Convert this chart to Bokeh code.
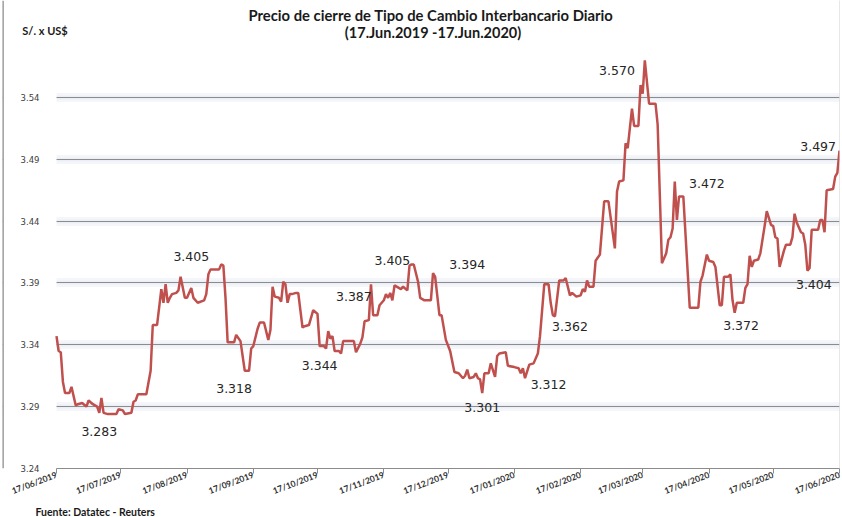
import pandas as pd
from bokeh.plotting import figure
from bokeh.models import (FixedTicker, PrintfTickFormatter, DatetimeTickFormatter,
                          Label, Range1d, Grid, Span, BoxAnnotation, Title)
from bokeh.embed import file_html
from bokeh.resources import INLINE

# ---------------- data ----------------
dates = [
    "2019-06-17", "2019-06-18", "2019-06-19", "2019-06-20", "2019-06-21", "2019-06-23", "2019-06-24",
    "2019-06-26", "2019-06-27", "2019-06-29", "2019-07-01", "2019-07-02", "2019-07-04", "2019-07-06",
    "2019-07-07", "2019-07-08", "2019-07-09", "2019-07-11", "2019-07-15", "2019-07-16", "2019-07-18",
    "2019-07-19", "2019-07-22", "2019-07-23", "2019-07-24", "2019-07-25", "2019-07-29", "2019-07-31",
    "2019-08-01", "2019-08-03", "2019-08-05", "2019-08-06", "2019-08-07", "2019-08-08", "2019-08-09",
    "2019-08-10", "2019-08-12", "2019-08-13", "2019-08-14", "2019-08-16", "2019-08-17", "2019-08-19",
    "2019-08-20", "2019-08-22", "2019-08-25", "2019-08-26", "2019-08-27", "2019-08-28", "2019-09-01",
    "2019-09-02", "2019-09-03", "2019-09-04", "2019-09-05", "2019-09-08", "2019-09-09", "2019-09-11",
    "2019-09-13", "2019-09-15", "2019-09-16", "2019-09-17", "2019-09-19", "2019-09-20", "2019-09-22",
    "2019-09-24", "2019-09-25", "2019-09-26", "2019-09-27", "2019-09-29", "2019-09-30", "2019-10-01",
    "2019-10-02", "2019-10-03", "2019-10-04", "2019-10-05", "2019-10-07", "2019-10-08", "2019-10-10",
    "2019-10-11", "2019-10-13", "2019-10-15", "2019-10-17", "2019-10-18", "2019-10-20", "2019-10-21",
    "2019-10-22", "2019-10-23", "2019-10-24", "2019-10-25", "2019-10-27", "2019-10-28", "2019-10-29",
    "2019-10-31", "2019-11-03", "2019-11-04", "2019-11-06", "2019-11-07", "2019-11-08", "2019-11-10",
    "2019-11-11", "2019-11-12", "2019-11-14", "2019-11-15", "2019-11-17", "2019-11-18", "2019-11-19",
    "2019-11-20", "2019-11-21", "2019-11-22", "2019-11-23", "2019-11-25", "2019-11-26", "2019-11-28",
    "2019-11-29", "2019-11-30", "2019-12-01", "2019-12-03", "2019-12-04", "2019-12-06", "2019-12-09",
    "2019-12-10", "2019-12-11", "2019-12-13", "2019-12-14", "2019-12-16", "2019-12-18", "2019-12-20",
    "2019-12-22", "2019-12-24", "2019-12-25", "2019-12-26", "2019-12-27", "2019-12-29", "2019-12-30",
    "2019-12-31", "2020-01-01", "2020-01-02", "2020-01-03", "2020-01-05", "2020-01-06", "2020-01-08",
    "2020-01-09", "2020-01-10", "2020-01-13", "2020-01-14", "2020-01-17", "2020-01-19", "2020-01-20",
    "2020-01-21", "2020-01-22", "2020-01-24", "2020-01-26", "2020-01-28", "2020-01-29", "2020-01-31",
    "2020-02-02", "2020-02-03", "2020-02-04", "2020-02-05", "2020-02-07", "2020-02-09", "2020-02-10",
    "2020-02-12", "2020-02-13", "2020-02-15", "2020-02-17", "2020-02-18", "2020-02-19", "2020-02-20",
    "2020-02-21", "2020-02-23", "2020-02-24", "2020-02-26", "2020-02-28", "2020-03-01", "2020-03-04",
    "2020-03-05", "2020-03-06", "2020-03-08", "2020-03-09", "2020-03-10", "2020-03-12", "2020-03-13",
    "2020-03-15", "2020-03-16", "2020-03-17", "2020-03-18", "2020-03-20", "2020-03-23", "2020-03-24",
    "2020-03-26", "2020-03-28", "2020-03-29", "2020-03-30", "2020-03-31", "2020-04-01", "2020-04-02",
    "2020-04-03", "2020-04-05", "2020-04-08", "2020-04-12", "2020-04-13", "2020-04-14", "2020-04-16",
    "2020-04-17", "2020-04-19", "2020-04-20", "2020-04-22", "2020-04-23", "2020-04-24", "2020-04-26",
    "2020-04-27", "2020-04-28", "2020-04-29", "2020-04-30", "2020-05-03", "2020-05-04", "2020-05-05",
    "2020-05-06", "2020-05-07", "2020-05-08", "2020-05-10", "2020-05-11", "2020-05-13", "2020-05-14",
    "2020-05-16", "2020-05-17", "2020-05-18", "2020-05-19", "2020-05-20", "2020-05-22", "2020-05-23",
    "2020-05-25", "2020-05-26", "2020-05-27", "2020-05-28", "2020-05-30", "2020-05-31", "2020-06-01",
    "2020-06-02", "2020-06-03", "2020-06-04", "2020-06-07", "2020-06-08", "2020-06-09", "2020-06-10",
    "2020-06-11", "2020-06-14", "2020-06-15", "2020-06-16", "2020-06-17",
]
rates = [
    3.347, 3.335, 3.334, 3.310, 3.301, 3.301, 3.306,
    3.291, 3.292, 3.293, 3.290, 3.295, 3.292, 3.290,
    3.285, 3.297, 3.285, 3.284, 3.284, 3.288, 3.287,
    3.284, 3.285, 3.294, 3.295, 3.300, 3.300, 3.319,
    3.356, 3.356, 3.385, 3.374, 3.389, 3.374, 3.378,
    3.381, 3.382, 3.384, 3.395, 3.378, 3.378, 3.386,
    3.378, 3.374, 3.376, 3.381, 3.397, 3.401, 3.401,
    3.405, 3.404, 3.378, 3.342, 3.342, 3.348, 3.343,
    3.319, 3.319, 3.337, 3.339, 3.353, 3.358, 3.358,
    3.344, 3.352, 3.387, 3.379, 3.378, 3.375, 3.391,
    3.389, 3.374, 3.381, 3.381, 3.382, 3.382, 3.354,
    3.355, 3.356, 3.368, 3.365, 3.339, 3.339, 3.337,
    3.351, 3.345, 3.347, 3.335, 3.335, 3.333, 3.343,
    3.343, 3.343, 3.334, 3.341, 3.346, 3.359, 3.360,
    3.389, 3.364, 3.364, 3.372, 3.376, 3.381, 3.378,
    3.382, 3.376, 3.388, 3.387, 3.385, 3.387, 3.384,
    3.404, 3.405, 3.405, 3.391, 3.378, 3.376, 3.376,
    3.398, 3.395, 3.364, 3.364, 3.344, 3.335, 3.318,
    3.317, 3.313, 3.315, 3.320, 3.313, 3.314, 3.317,
    3.313, 3.312, 3.301, 3.317, 3.317, 3.325, 3.314,
    3.331, 3.333, 3.334, 3.323, 3.322, 3.321, 3.317,
    3.321, 3.313, 3.324, 3.325, 3.333, 3.347, 3.389,
    3.389, 3.374, 3.364, 3.363, 3.392, 3.392, 3.394,
    3.380, 3.382, 3.379, 3.380, 3.385, 3.383, 3.392,
    3.387, 3.387, 3.408, 3.413, 3.456, 3.456, 3.418,
    3.464, 3.472, 3.473, 3.503, 3.499, 3.531, 3.517,
    3.517, 3.550, 3.543, 3.570, 3.535, 3.535, 3.518,
    3.406, 3.414, 3.425, 3.427, 3.434, 3.472, 3.441,
    3.460, 3.460, 3.370, 3.370, 3.391, 3.396, 3.413,
    3.408, 3.407, 3.403, 3.372, 3.372, 3.395, 3.395,
    3.397, 3.376, 3.366, 3.374, 3.374, 3.386, 3.389,
    3.412, 3.403, 3.408, 3.409, 3.414, 3.436, 3.448,
    3.437, 3.436, 3.427, 3.426, 3.403, 3.416, 3.421,
    3.421, 3.427, 3.446, 3.439, 3.431, 3.430, 3.421,
    3.400, 3.402, 3.433, 3.433, 3.441, 3.441, 3.431,
    3.465, 3.466, 3.476, 3.479, 3.497,
]
y_ticks = [3.24, 3.29, 3.34, 3.39, 3.44, 3.49, 3.54]
x_tick_labels = ["17/06/2019", "17/07/2019", "17/08/2019", "17/09/2019", "17/10/2019",
                 "17/11/2019", "17/12/2019", "17/01/2020", "17/02/2020", "17/03/2020",
                 "17/04/2020", "17/05/2020", "17/06/2020"]
callout_texts = ["3.283", "3.405", "3.318", "3.344", "3.387", "3.405", "3.394", "3.301",
                 "3.312", "3.362", "3.570", "3.472", "3.372", "3.404", "3.497"]

# annotation positions (date, level) for the call-out texts
callout_pos = [("2019-07-07", 3.2702), ("2019-08-19", 3.4114), ("2019-09-08", 3.3049),
               ("2019-10-18", 3.3233), ("2019-11-03", 3.3791), ("2019-11-21", 3.4082),
               ("2019-12-26", 3.4047), ("2020-01-02", 3.2896), ("2020-02-02", 3.3077),
               ("2020-02-12", 3.3548), ("2020-03-05", 3.5618), ("2020-04-16", 3.4707),
               ("2020-05-02", 3.3554), ("2020-06-05", 3.3888), ("2020-06-07", 3.5004)]

title_1 = "Precio de cierre de Tipo de Cambio Interbancario Diario"
title_2 = "(17.Jun.2019 -17.Jun.2020)"
unit_text = "S/. x US$"
source_text = "Fuente: Datatec - Reuters"


def ms(s):
    return pd.Timestamp(s).value / 1e6


x = pd.to_datetime(dates)
xt = [pd.to_datetime(s, format="%d/%m/%Y") for s in x_tick_labels]
xt_ms = [t.value / 1e6 for t in xt]

# frame spans x=2..839 px; the first date sits 54 px inside it
span_ms = xt_ms[-1] - xt_ms[0]
x_start = xt_ms[0] - span_ms * 54.0 / 783.0

p = figure(width=842, height=517, x_axis_type="datetime",
           output_backend="svg", toolbar_location=None,
           x_range=Range1d(x_start, xt_ms[-1]), y_range=Range1d(3.24, 3.6184),
           min_border_left=2, min_border_right=3, min_border_top=0, min_border_bottom=49)
p.outline_line_color = None
p.background_fill_color = "white"
p.border_fill_color = "white"

# grid lines with a soft halo
p.xgrid.visible = False
p.ygrid.visible = False
halo1 = Grid(dimension=1, ticker=FixedTicker(ticks=y_ticks[1:]),
             grid_line_color="#f4f6fa", grid_line_width=9)
halo2 = Grid(dimension=1, ticker=FixedTicker(ticks=y_ticks[1:]),
             grid_line_color="#ecf0f6", grid_line_width=4)
main_grid = Grid(dimension=1, ticker=FixedTicker(ticks=y_ticks[1:]),
                 grid_line_color="#8c8c8c", grid_line_width=1.2)
p.add_layout(halo1)
p.add_layout(halo2)
p.add_layout(main_grid)
# keep the strip left of the first date clear of grid lines
p.add_layout(BoxAnnotation(right=xt_ms[0], fill_color="white", fill_alpha=1.0,
                           line_color=None, level="underlay"))
# chart-area border on the left
p.add_layout(Span(location=x_start, dimension="height", line_color="#8a8a8a",
                  line_width=2.5))

# y axis (labels sit just left of the first date)
p.yaxis.ticker = FixedTicker(ticks=y_ticks)
p.yaxis.formatter = PrintfTickFormatter(format="%.2f")
p.yaxis.axis_line_color = None
p.yaxis.major_tick_line_color = None
p.yaxis.minor_tick_line_color = None
p.yaxis.major_label_standoff = -43
p.yaxis.major_label_text_font = "DejaVu Sans"
p.yaxis.major_label_text_font_size = "8.5px"
p.yaxis.major_label_text_color = "#404040"

# x axis
fmt = "%d/%m/%Y"
p.xaxis.ticker = FixedTicker(ticks=xt_ms)
p.xaxis.bounds = (xt_ms[0], xt_ms[-1])
p.xaxis.formatter = DatetimeTickFormatter(
    microseconds=fmt, milliseconds=fmt, seconds=fmt, minsec=fmt, minutes=fmt,
    hourmin=fmt, hours=fmt, days=fmt, months=fmt, years=fmt)
p.xaxis.major_label_orientation = 0.36
p.xaxis.axis_line_color = "#8c8c8c"
p.xaxis.major_tick_line_color = "#8c8c8c"
p.xaxis.major_tick_out = 5
p.xaxis.major_tick_in = 0
p.xaxis.minor_tick_line_color = None
p.xaxis.major_label_standoff = 1
p.xaxis.major_label_text_font = "Lato"
p.xaxis.major_label_text_font_style = "bold"
p.xaxis.major_label_text_font_size = "8.5px"
p.xaxis.major_label_text_color = "#333333"

# right dotted border
p.add_layout(Span(location=xt_ms[-1], dimension="height", line_color="#a0a0a0",
                  line_dash="1 1", line_width=1))

# series
p.line(x, rates, line_color="#C0504D", line_width=2.5)

# call-out texts
for t, (d, lv) in zip(callout_texts, callout_pos):
    p.add_layout(Label(x=ms(d), y=lv, text=t, text_align="center", text_baseline="middle",
                       text_font="DejaVu Sans", text_font_size="12.5px", text_color="#262626"))

# titles and notes
p.add_layout(Label(x=ms("2019-12-09"), y=3.6063, text=title_1, text_align="center",
                   text_baseline="middle", text_font="Lato", text_font_style="bold",
                   text_font_size="14.8px", text_color="#1a1a1a"))
p.add_layout(Label(x=ms("2019-12-10"), y=3.5926, text=title_2, text_align="center",
                   text_baseline="middle", text_font="Lato", text_font_style="bold",
                   text_font_size="14.5px", text_color="#1a1a1a"))
p.add_layout(Label(x=ms("2019-06-01"), y=3.5942, text=unit_text, text_align="left",
                   text_baseline="middle", text_font="Lato", text_font_style="bold",
                   text_font_size="11px", text_color="#1a1a1a"))
p.add_layout(Title(text=source_text, align="left", offset=33, standoff=0,
                   text_font="Lato", text_font_style="bold", text_font_size="10.5px",
                   text_color="#1a1a1a"), "below")

open("out.html", "w").write(file_html(p, INLINE))
